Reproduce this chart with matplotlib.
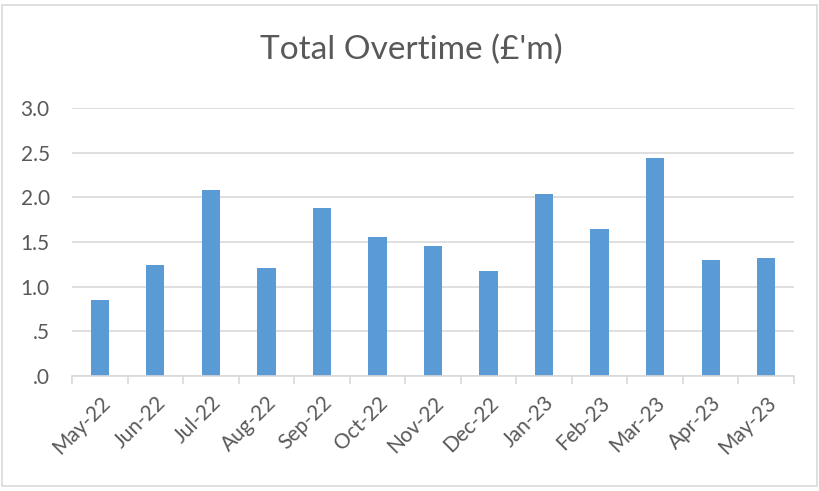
import matplotlib
matplotlib.use("Agg")
import matplotlib.pyplot as plt
from matplotlib.patches import Rectangle
import numpy as np

plt.rcParams['font.family'] = ['Lato', 'DejaVu Sans']

months = ["May-22", "Jun-22", "Jul-22", "Aug-22", "Sep-22", "Oct-22", "Nov-22",
          "Dec-22", "Jan-23", "Feb-23", "Mar-23", "Apr-23", "May-23"]
overtime = [0.85, 1.24, 2.08, 1.21, 1.88, 1.56, 1.46,
            1.18, 2.04, 1.64, 2.44, 1.30, 1.32]
y_ticks = [0.0, 0.5, 1.0, 1.5, 2.0, 2.5, 3.0]
y_labels = [".0", ".5", "1.0", "1.5", "2.0", "2.5", "3.0"]

text_color = "#595959"
grid_color = "#D9D9D9"
bar_color = "#5B9BD5"

fig = plt.figure(figsize=(8.19, 4.91), dpi=100)
fig.patch.set_facecolor("white")

# chart frame
fig.add_artist(Rectangle((2 / 819, 5 / 491), 815 / 819, 481 / 491,
                         transform=fig.transFigure, fill=False,
                         edgecolor=grid_color, linewidth=1.2))

ax = fig.add_axes([72 / 819, 115 / 491, 722 / 819, 268 / 491])
x = np.arange(len(months))
ax.bar(x, overtime, width=0.33, color=bar_color, zorder=3)

ax.set_xlim(-0.5, len(months) - 0.5)
ax.set_ylim(0, 3.0)
ax.set_yticks(y_ticks)
ax.set_yticklabels(y_labels)
ax.yaxis.grid(True, color=grid_color, linewidth=1.2, zorder=0)
ax.tick_params(axis="y", length=0, pad=16, labelsize=15, labelcolor=text_color)

# labels at category centres, tick marks at category boundaries
ax.set_xticks(x)
ax.set_xticklabels(months, rotation=45, ha="right", rotation_mode="anchor")
ax.tick_params(axis="x", which="major", length=0, pad=12, labelsize=15,
               labelcolor=text_color)
ax.set_xticks(np.arange(-0.5, len(months), 1.0), minor=True)
ax.tick_params(axis="x", which="minor", length=6, width=1.2, color=grid_color)

for side in ["top", "right", "left"]:
    ax.spines[side].set_visible(False)
ax.spines["bottom"].set_color(grid_color)
ax.spines["bottom"].set_linewidth(1.2)
ax.spines["bottom"].set_zorder(4)

fig.text(411 / 819, 1 - 50 / 491, "Total Overtime (£'m)", ha="center",
         va="center", fontsize=24, color=text_color)

fig.savefig("out.png", dpi=100, facecolor="white")
